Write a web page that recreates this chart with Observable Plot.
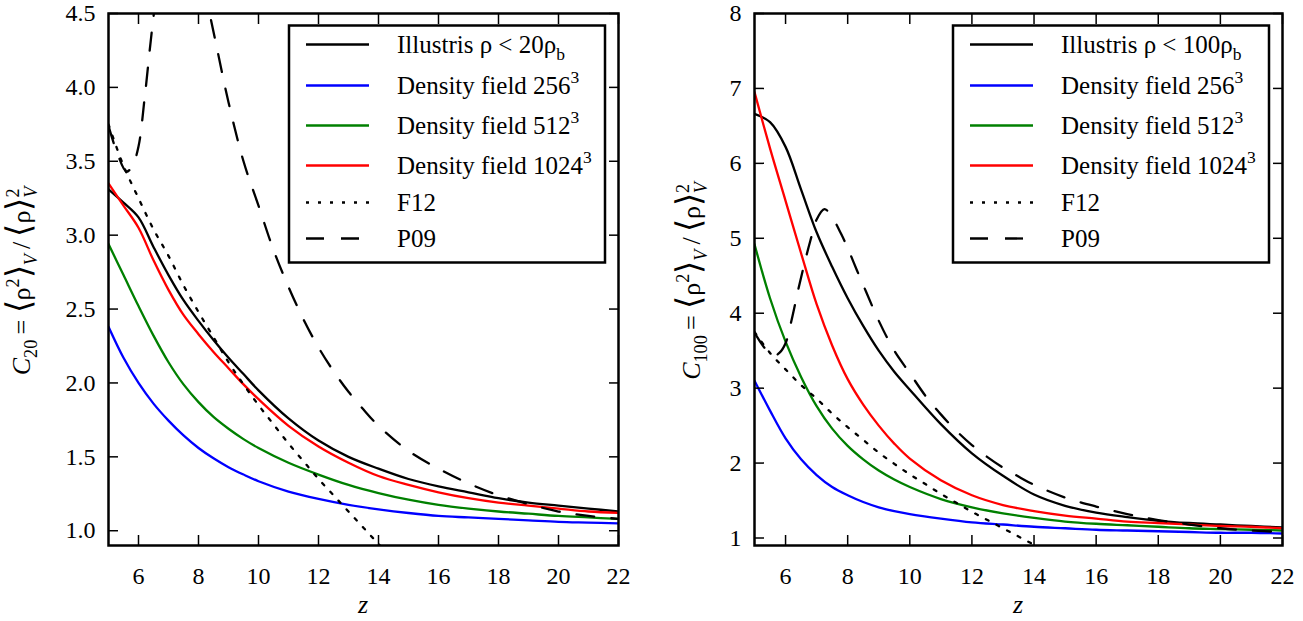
<!DOCTYPE html>
<html><head><meta charset="utf-8">
<script src="https://cdn.jsdelivr.net/npm/d3@7"></script>
<script src="https://cdn.jsdelivr.net/npm/@observablehq/plot@0.6"></script>
<style>
body{margin:0;background:#fff;}
#wrap{position:relative;width:1303px;height:621px;overflow:hidden;background:#fff;}
#wrap svg text, #wrap svg tspan { font-family: 'Liberation Serif', serif !important; }
</style></head><body><div id="wrap"></div>
<script>
// ---- data ----
const zGrid = [5,5.5,6,6.5,7,7.5,8,8.5,9,9.5,10,11,12,13,14,15,16,17,18,19,20,21,22];
const xTicks = [6,8,10,12,14,16,18,20,22];

// left panel: C20
const c20Illustris = [3.31,3.22,3.12,2.92,2.73,2.56,2.42,2.29,2.17,2.06,1.95,1.76,1.61,1.5,1.42,1.35,1.3,1.26,1.22,1.19,1.17,1.15,1.13];
const c20Field256  = [2.38,2.17,2.0,1.86,1.745,1.645,1.56,1.49,1.43,1.38,1.335,1.265,1.215,1.175,1.145,1.12,1.1,1.09,1.08,1.07,1.06,1.055,1.05];
const c20Field512  = [2.94,2.73,2.52,2.32,2.14,1.99,1.87,1.77,1.69,1.62,1.56,1.46,1.38,1.31,1.255,1.21,1.175,1.15,1.13,1.115,1.1,1.09,1.08];
const c20Field1024 = [3.35,3.2,3.05,2.83,2.63,2.46,2.33,2.21,2.1,1.99,1.89,1.71,1.57,1.46,1.37,1.31,1.26,1.22,1.19,1.17,1.15,1.13,1.12];
const c20YTicks = [1.0,1.5,2.0,2.5,3.0,3.5,4.0,4.5];

// right panel: C100
const c100Illustris = [6.66,6.55,6.22,5.65,5.08,4.62,4.2,3.83,3.5,3.22,2.98,2.52,2.13,1.83,1.58,1.43,1.34,1.28,1.23,1.2,1.18,1.16,1.14];
const c100Field256  = [3.1,2.7,2.33,2.05,1.84,1.68,1.57,1.48,1.41,1.36,1.32,1.26,1.21,1.18,1.15,1.13,1.11,1.1,1.09,1.08,1.07,1.07,1.06];
const c100Field512  = [4.92,4.2,3.62,3.15,2.76,2.46,2.23,2.05,1.9,1.78,1.68,1.52,1.41,1.33,1.27,1.22,1.19,1.17,1.15,1.13,1.12,1.11,1.1];
const c100Field1024 = [6.95,6.2,5.5,4.8,4.12,3.57,3.12,2.78,2.5,2.26,2.06,1.77,1.57,1.44,1.36,1.3,1.26,1.22,1.2,1.18,1.16,1.15,1.13];
const c100YTicks = [1,2,3,4,5,6,7,8];

// models (same in both panels)
const zF12 = [5,5.5,6,6.5,7,7.5,8,8.5,9,9.5,10,10.5,11,11.5,12,12.5,13,13.5,14,14.5];
const f12  = [3.75,3.47,3.25,3.04,2.86,2.66,2.48,2.31,2.14,1.99,1.85,1.72,1.59,1.47,1.35,1.24,1.13,1.02,0.91,0.8];
const zP09 = [5,5.3,5.6,5.8,6.0,6.2,6.4,6.6,6.8,7.0,7.25,7.5,7.8,8.0,8.3,8.6,9.0,9.5,10,10.5,11,11.5,12,12.5,13,13.5,14,15,16,17,18,19,20,21,22];
const p09  = [3.74,3.55,3.43,3.47,3.6,3.92,4.3,4.65,4.97,5.25,5.39,5.28,5.05,4.87,4.57,4.28,3.9,3.5,3.2,2.9,2.65,2.43,2.24,2.08,1.94,1.82,1.71,1.54,1.42,1.32,1.24,1.18,1.13,1.1,1.08];

const FONT = "'Liberation Serif', serif";

function toRows(z, v) { return z.map((zz, i) => ({z: zz, v: v[i]})); }

function addRich(sel, parts, fs) {
  let shift = 0;
  for (const [txt, o] of parts) {
    const small = o.sub || o.sup;
    const target = o.sub ? fs * 0.28 : o.sup ? -fs * 0.42 : 0;
    const ts = sel.append("tspan").text(txt)
      .attr("dy", target - shift)
      .attr("font-size", small ? fs * 0.7 : (o.size || fs));
    if (o.italic) ts.attr("font-style", "italic");
    if (o.back) ts.attr("dx", -o.back);
    shift = target;
  }
}

function makePanel(cfg) {
  const series = [
    {v: cfg.illustris, z: zGrid, stroke: "#000000", dash: null},
    {v: cfg.f256, z: zGrid, stroke: "#0000ff", dash: null},
    {v: cfg.f512, z: zGrid, stroke: "#008000", dash: null},
    {v: cfg.f1024, z: zGrid, stroke: "#ff0000", dash: null},
    {v: f12, z: zF12, stroke: "#000000", dash: "3,9"},
    {v: p09, z: zP09, stroke: "#000000", dash: "18,17"}
  ];
  const H = 621, mT = 13, mB = 76;
  const plot = Plot.plot({
    width: cfg.width, height: H,
    marginLeft: cfg.mL, marginRight: cfg.mR, marginTop: mT, marginBottom: mB,
    x: {domain: [5, 22]},
    y: {domain: cfg.yDomain},
    style: {fontFamily: FONT, fontSize: "24px", color: "#000", background: "transparent", overflow: "visible"},
    marks: [
      ...series.map(s => Plot.line(toRows(s.z, s.v), {
        x: "z", y: "v", stroke: s.stroke, strokeWidth: 2.3,
        strokeDasharray: s.dash, curve: "catmull-rom", clip: true
      })),
      Plot.axisX(xTicks, {anchor: "bottom", tickSize: 0, tickPadding: 21, label: null, fontSize: 24}),
      Plot.axisX(xTicks, {anchor: "bottom", tickSize: -10, tickFormat: () => "", label: null, strokeWidth: 1.5}),
      Plot.axisX(xTicks, {anchor: "top", tickSize: -10, tickFormat: () => "", label: null, strokeWidth: 1.5}),
      Plot.axisY(cfg.yTicks, {anchor: "left", tickSize: 0, tickPadding: 13, tickFormat: cfg.fmt, label: null, fontSize: 24}),
      Plot.axisY(cfg.yTicks, {anchor: "left", tickSize: -10, tickFormat: () => "", label: null, strokeWidth: 1.5}),
      Plot.axisY(cfg.yTicks, {anchor: "right", tickSize: -10, tickFormat: () => "", label: null, strokeWidth: 1.5}),
      Plot.frame({stroke: "#000", strokeWidth: 2.5})
    ]
  });
  plot.style.position = "absolute";
  plot.style.left = cfg.left + "px";
  plot.style.top = "0px";

  const svg = d3.select(plot);
  const fr = {left: cfg.mL, right: cfg.width - cfg.mR, top: mT, bottom: H - mB};

  // x label
  svg.append("text").attr("x", (fr.left + fr.right) / 2).attr("y", 613)
    .attr("text-anchor", "middle").attr("font-size", 26)
    .attr("font-style", "italic").attr("fill", "#000").text("z");

  // y label
  const fs = 26;
  const yl = svg.append("text")
    .attr("transform", `translate(${cfg.ylabX},${(fr.top + fr.bottom) / 2 + 2}) rotate(-90)`)
    .attr("text-anchor", "middle").attr("font-size", fs).attr("fill", "#000");
  addRich(yl, [
    ["C", {italic: true}],
    [cfg.sub, {sub: true}],
    ["\u2009= ", {}],
    ["\u27E8", {size: fs * 1.3}],
    ["\u03C1", {}],
    ["2", {sup: true}],
    ["\u27E9", {size: fs * 1.3}],
    ["V", {sub: true, italic: true}],
    ["\u2009/\u2009", {}],
    ["\u27E8", {size: fs * 1.3}],
    ["\u03C1", {}],
    ["\u27E9", {size: fs * 1.3}],
    ["2", {sup: true}],
    ["V", {sub: true, italic: true, back: fs * 0.36}]
  ], fs);

  // legend
  const bw = 316, bh = 237;
  const bx = fr.right - 13 - bw, by = fr.top + 12.5;
  const g = svg.append("g");
  g.append("rect").attr("x", bx).attr("y", by).attr("width", bw).attr("height", bh)
    .attr("fill", "#fff").attr("stroke", "#000").attr("stroke-width", 2.5);
  const rowY = [19, 60, 100, 140, 177, 213];
  const lfs = 25;
  const entries = [
    [["Illustris \u03C1 < " + cfg.thr + "\u03C1", {}], ["b", {sub: true}]],
    [["Density field 256", {}], ["3", {sup: true}]],
    [["Density field 512", {}], ["3", {sup: true}]],
    [["Density field 1024", {}], ["3", {sup: true}]],
    [["F12", {}]],
    [["P09", {}]]
  ];
  entries.forEach((parts, i) => {
    const cy = by + rowY[i];
    const s = series[i];
    g.append("line").attr("x1", bx + 17).attr("x2", bx + 80).attr("y1", cy).attr("y2", cy)
      .attr("stroke", s.stroke).attr("stroke-width", 2.3)
      .attr("stroke-dasharray", s.dash);
    const t = g.append("text").attr("x", bx + 108).attr("y", cy + lfs * 0.32)
      .attr("text-anchor", "start").attr("font-size", lfs).attr("fill", "#000");
    addRich(t, parts, lfs);
  });
  return plot;
}

const wrap = document.getElementById("wrap");
wrap.appendChild(makePanel({
  left: 0, width: 640, mL: 108, mR: 22, yDomain: [0.9, 4.5], yTicks: c20YTicks,
  fmt: d3.format(".1f"), illustris: c20Illustris, f256: c20Field256, f512: c20Field512, f1024: c20Field1024,
  sub: "20", thr: "20", ylabX: 30
}));
wrap.appendChild(makePanel({
  left: 660, width: 643, mL: 94, mR: 21, yDomain: [0.9, 8], yTicks: c100YTicks,
  fmt: d3.format("d"), illustris: c100Illustris, f256: c100Field256, f512: c100Field512, f1024: c100Field1024,
  sub: "100", thr: "100", ylabX: 40
}));
</script></body></html>
